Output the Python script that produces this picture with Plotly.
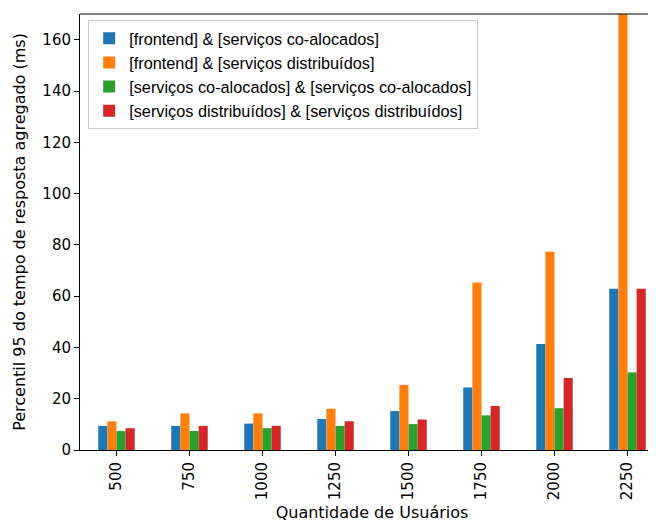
import plotly.graph_objects as go

categories = ["500", "750", "1000", "1250", "1500", "1750", "2000", "2250"]
series_names = [
    "[frontend] & [serviços co-alocados]",
    "[frontend] & [serviços distribuídos]",
    "[serviços co-alocados] & [serviços co-alocados]",
    "[serviços distribuídos] & [serviços distribuídos]",
]
front_coloc = [9.4, 9.4, 10.3, 12.1, 15.2, 24.4, 41.4, 62.9]
front_dist = [11.2, 14.3, 14.3, 16.1, 25.4, 65.3, 77.3, 210.0]
coloc_coloc = [7.4, 7.4, 8.5, 9.4, 10.1, 13.5, 16.3, 30.3]
dist_dist = [8.5, 9.4, 9.4, 11.2, 11.9, 17.2, 28.1, 62.9]
series_values = [front_coloc, front_dist, coloc_coloc, dist_dist]
colors = ["#1f77b4", "#ff7f0e", "#2ca02c", "#d62728"]
y_ticks = [0, 20, 40, 60, 80, 100, 120, 140, 160]

x_idx = list(range(len(categories)))

fig = go.Figure()
for name, vals, col in zip(series_names, series_values, colors):
    fig.add_trace(go.Bar(x=x_idx, y=vals, name=name, marker=dict(color=col, line=dict(width=0))))

tick_font = dict(family="DejaVu Sans", size=15, color="black")
title_font = dict(family="DejaVu Sans", size=16, color="black")
fig.update_layout(
    width=656, height=522,
    margin=dict(l=72, r=0, t=6, b=80),
    paper_bgcolor="white", plot_bgcolor="white",
    barmode="group", bargap=0.5, bargroupgap=0,
    font=tick_font,
    showlegend=True,
    legend=dict(
        x=0.014, y=0.986, xanchor="left", yanchor="top",
        bgcolor="rgba(255,255,255,0.8)", bordercolor="#cccccc", borderwidth=1,
        font=dict(family="Liberation Sans", size=16.3, color="black"),
        tracegroupgap=0, itemwidth=30,
    ),
    xaxis=dict(
        range=[-0.5, 7.5], tickmode="array", tickvals=x_idx, ticktext=categories,
        tickangle=-90, ticks="outside", ticklen=5, tickcolor="black",
        tickfont=tick_font,
        showline=True, linecolor="black", linewidth=1, mirror=False,
        showgrid=False, zeroline=False, automargin=False,
        title=dict(text="Quantidade de Usuários", font=title_font, standoff=7),
    ),
    yaxis=dict(
        range=[0, 170.1], tickmode="array", tickvals=y_ticks,
        ticks="outside", ticklen=5, tickcolor="black",
        tickfont=tick_font,
        showline=True, linecolor="black", linewidth=1, mirror=False,
        showgrid=False, zeroline=False, automargin=False,
        title=dict(text="Percentil 95 do tempo de resposta agregado (ms)", font=title_font, standoff=12),
    ),
)
# top spine
fig.add_shape(type="line", xref="paper", yref="paper", x0=0, x1=1, y0=1, y1=1,
              line=dict(color="black", width=1))

fig.write_html("out.html")
